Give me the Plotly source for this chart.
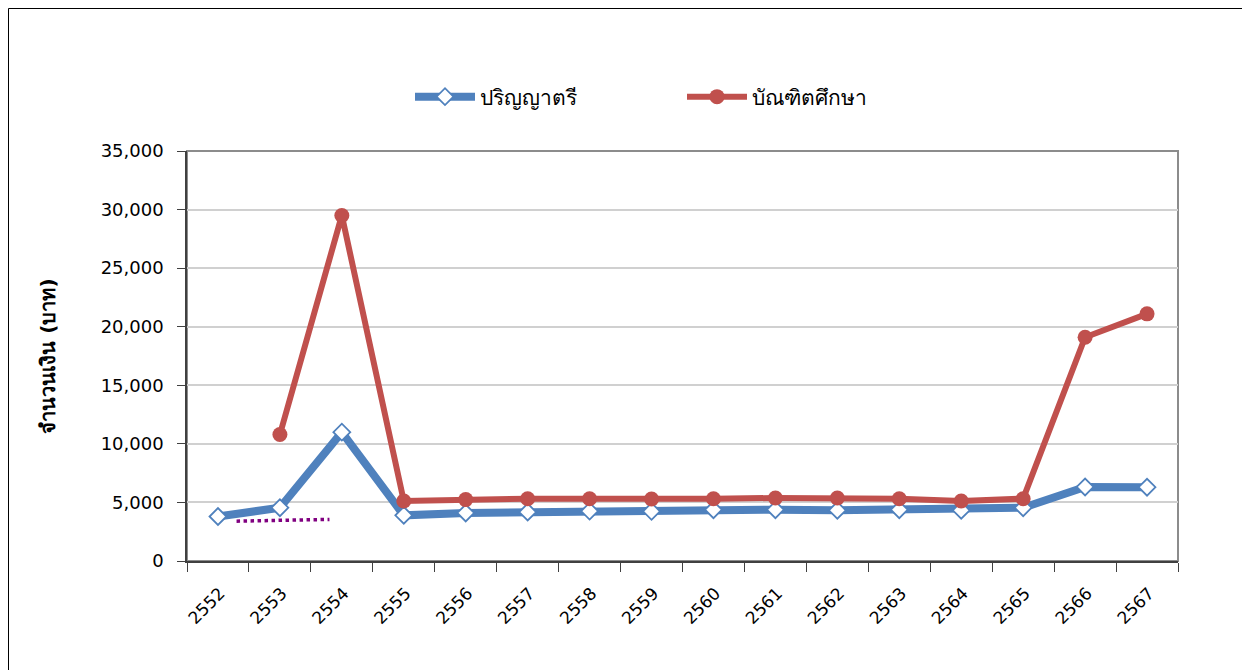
import plotly.graph_objects as go

years = ["2552", "2553", "2554", "2555", "2556", "2557", "2558", "2559",
         "2560", "2561", "2562", "2563", "2564", "2565", "2566", "2567"]
bachelor = [3800, 4550, 11000, 3900, 4100, 4180, 4260, 4240,
            4380, 4380, 4330, 4380, 4330, 4550, 6320, 6300]
graduate = [None, 10800, 29500, 5120, 5240, 5320, 5320, 5290,
            5320, 5380, 5380, 5320, 5120, 5320, 19100, 21100]
dotted_x = [0.3, 1.8]
dotted_y = [3400, 3550]

name_bachelor = "ปริญญาตรี"
name_graduate = "บัณฑิตศึกษา"
y_title = "<b>จำนวนเงิน (บาท)</b>"

FONT = "Tahoma, 'DejaVu Sans', 'Noto Sans', sans-serif"
idx = list(range(len(years)))

fig = go.Figure()
fig.add_trace(go.Scatter(
    x=idx, y=bachelor, name=name_bachelor, mode="lines+markers",
    line=dict(color="#4F81BD", width=8),
    marker=dict(symbol="diamond", size=13, color="white",
                line=dict(color="#4F81BD", width=1.8)),
))
fig.add_trace(go.Scatter(
    x=idx, y=graduate, name=name_graduate, mode="lines+markers",
    line=dict(color="#C0504D", width=6),
    marker=dict(symbol="circle", size=15, color="#C0504D"),
))
fig.add_trace(go.Scatter(
    x=dotted_x, y=dotted_y, mode="lines", showlegend=False, hoverinfo="skip",
    line=dict(color="#800080", width=3.5, dash="dot"),
))

# page body has an 8px offset; figure coords = page coords - 8
OFF = 8
W, H = 1242, 662
L, R, T, B = 187 - OFF, 72, 151 - OFF, 109
pw, ph = W - L - R, H - T - B

def px2paper_x(px):
    return (px - OFF - L) / pw

def px2paper_y(py):
    return (H - B - (py - OFF)) / ph

# outer chart frame
fig.add_shape(type="rect", xref="paper", yref="paper",
              x0=px2paper_x(8.5), x1=px2paper_x(1248.5),
              y0=px2paper_y(690), y1=px2paper_y(8.5),
              line=dict(color="#000000", width=1), layer="below")
# plot area border (gray)
fig.add_shape(type="rect", xref="paper", yref="paper",
              x0=0, x1=1, y0=0, y1=1,
              line=dict(color="#8C8C8C", width=2), layer="below")

fig.update_layout(
    width=W, height=H,
    margin=dict(l=L, r=R, t=T, b=B),
    paper_bgcolor="white", plot_bgcolor="white",
    font=dict(family=FONT, size=17, color="#000000"),
    showlegend=True,
    legend=dict(orientation="h", x=px2paper_x(410), y=px2paper_y(97),
                xanchor="left", yanchor="middle",
                font=dict(family=FONT, size=21, color="#000000"),
                entrywidth=197, itemwidth=60),
    xaxis=dict(range=[-0.5, 15.5], tickmode="array", tickvals=idx,
               ticktext=years, tickangle=-45, ticks="",
               tickfont=dict(size=17), ticklabelstandoff=14,
               ticklabelshift=2,
               showgrid=False, zeroline=False,
               showline=True, linecolor="#404040", linewidth=1.5,
               minor=dict(tickmode="array",
                          tickvals=[i - 0.5 for i in range(len(years) + 1)],
                          ticks="outside", ticklen=9, tickwidth=1,
                          tickcolor="#404040", showgrid=False)),
    yaxis=dict(range=[0, 35000], dtick=5000, tickformat=",",
               ticks="outside", ticklen=8, tickcolor="#404040",
               tickfont=dict(size=18), ticklabelstandoff=10,
               showgrid=True, gridcolor="#D0D0D0", gridwidth=1.5,
               zeroline=False, showline=True, linecolor="#404040",
               linewidth=1.5,
               title=dict(text=y_title, font=dict(size=20, family=FONT),
                          standoff=40)),
)

fig.write_html("out.html")
